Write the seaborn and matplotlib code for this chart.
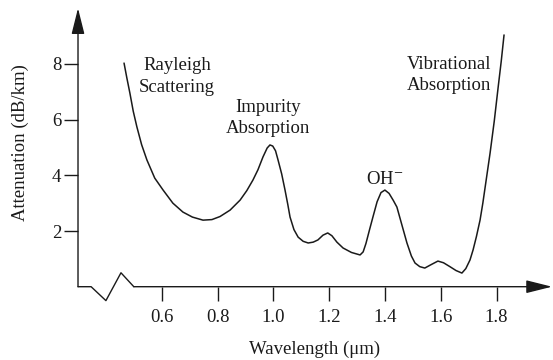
import numpy as np
import pandas as pd
import matplotlib
matplotlib.use("Agg")
import matplotlib.pyplot as plt
import seaborn as sns

# Fiber attenuation curve
wavelength = [0.465, 0.475, 0.486, 0.498, 0.511, 0.528, 0.547, 0.575, 0.605, 0.64,
              0.676, 0.71, 0.748, 0.78, 0.809, 0.845, 0.881, 0.905, 0.927, 0.945,
              0.963, 0.978, 0.988, 0.998, 1.008, 1.017, 1.03, 1.042, 1.052, 1.06,
              1.074, 1.089, 1.107, 1.125, 1.143, 1.16, 1.178, 1.195, 1.21, 1.228,
              1.25, 1.28, 1.311, 1.322, 1.332, 1.345, 1.357, 1.372, 1.386, 1.40,
              1.415, 1.43, 1.443, 1.46, 1.479, 1.495, 1.508, 1.525, 1.543, 1.567,
              1.59, 1.61, 1.633, 1.655, 1.676, 1.69, 1.705, 1.716, 1.728, 1.741,
              1.751, 1.764, 1.777, 1.792, 1.806, 1.817, 1.827]
attenuation = [8.03, 7.5, 6.95, 6.3, 5.74, 5.1, 4.55, 3.9, 3.47, 3.0,
               2.68, 2.5, 2.39, 2.41, 2.52, 2.75, 3.11, 3.45, 3.83, 4.2,
               4.66, 4.98, 5.09, 5.05, 4.88, 4.55, 4.05, 3.47, 2.95, 2.5,
               2.05, 1.78, 1.63, 1.57, 1.6, 1.68, 1.85, 1.93, 1.83, 1.6,
               1.39, 1.23, 1.14, 1.25, 1.55, 2.05, 2.5, 3.05, 3.38, 3.47,
               3.35, 3.1, 2.86, 2.25, 1.57, 1.1, 0.85, 0.72, 0.67, 0.8,
               0.92, 0.86, 0.72, 0.58, 0.49, 0.65, 0.96, 1.32, 1.8, 2.39,
               3.0, 3.9, 4.8, 5.95, 7.17, 8.1, 9.04]

x_ticks = [0.6, 0.8, 1.0, 1.2, 1.4, 1.6, 1.8]
x_tick_labels = ["0.6", "0.8", "1.0", "1.2", "1.4", "1.6", "1.8"]
y_ticks = [2, 4, 6, 8]
y_tick_labels = ["2", "4", "6", "8"]

# axis break zig-zag near the origin
break_x = [0.3, 0.347, 0.4, 0.454, 0.5]
break_y = [0, 0, -0.5, 0.5, 0]

labels = ["Rayleigh\nScattering", "Impurity\nAbsorption", "OH$^{-}$", "Vibrational\nAbsorption"]
label_x = [0.655, 0.98, 1.40, 1.63]
label_y = [7.55, 6.05, 3.85, 7.6]

df = pd.DataFrame({"wavelength": wavelength, "attenuation": attenuation})

sns.set_style("white")
plt.rcParams["font.family"] = ["Liberation Serif", "DejaVu Serif"]
plt.rcParams["mathtext.fontset"] = "stix"

ink = "#1a1a1a"
fs = 13.5

fig = plt.figure(figsize=(5.53, 3.6), dpi=100)
ax = fig.add_axes([0, 0, 1, 1])

sns.lineplot(data=df, x="wavelength", y="attenuation", sort=False, estimator=None,
             color=ink, linewidth=1.1, ax=ax)

# axes: zig-zag break, then arrows
ax.plot(break_x, break_y, color=ink, linewidth=1.0)
arrow = dict(arrowstyle="-|>,head_length=1.0,head_width=0.25", mutation_scale=16,
             color=ink, lw=1.0, shrinkA=0, shrinkB=0)
ax.annotate("", xy=(1.999, 0), xytext=(break_x[-1], 0), arrowprops=arrow)
ax.annotate("", xy=(0.3, 10.0), xytext=(0.3, 0), arrowprops=arrow)

for s in ["top", "right", "left", "bottom"]:
    ax.spines[s].set_visible(False)
ax.spines["left"].set_position(("data", 0.3))
ax.spines["bottom"].set_position(("data", 0))

ax.set_xticks(x_ticks)
ax.set_xticklabels(x_tick_labels)
ax.set_yticks(y_ticks)
ax.set_yticklabels(y_tick_labels)
ax.tick_params(axis="both", direction="out", length=10, width=1.0, color=ink,
               labelcolor=ink, labelsize=fs)
ax.tick_params(axis="x", pad=6, bottom=True)
ax.tick_params(axis="y", pad=2, left=True)
ax.set_xlabel("")
ax.set_ylabel("")

for txt, lx, ly in zip(labels, label_x, label_y):
    ax.text(lx, ly, txt, ha="center", va="center", fontsize=fs, color=ink, linespacing=1.35)

fig.text(315 / 553, 1 - 349 / 360, "Wavelength (\u03bcm)", ha="center", va="center",
         fontsize=fs, color=ink)
fig.text(20 / 553, 1 - 143 / 360, "Attenuation (dB/km)", ha="center", va="center",
         rotation=90, fontsize=fs, color=ink)

ax.set_xlim(0.0204, 2.0025)
ax.set_ylim(-2.632, 10.295)

fig.savefig("out.png", dpi=100)
